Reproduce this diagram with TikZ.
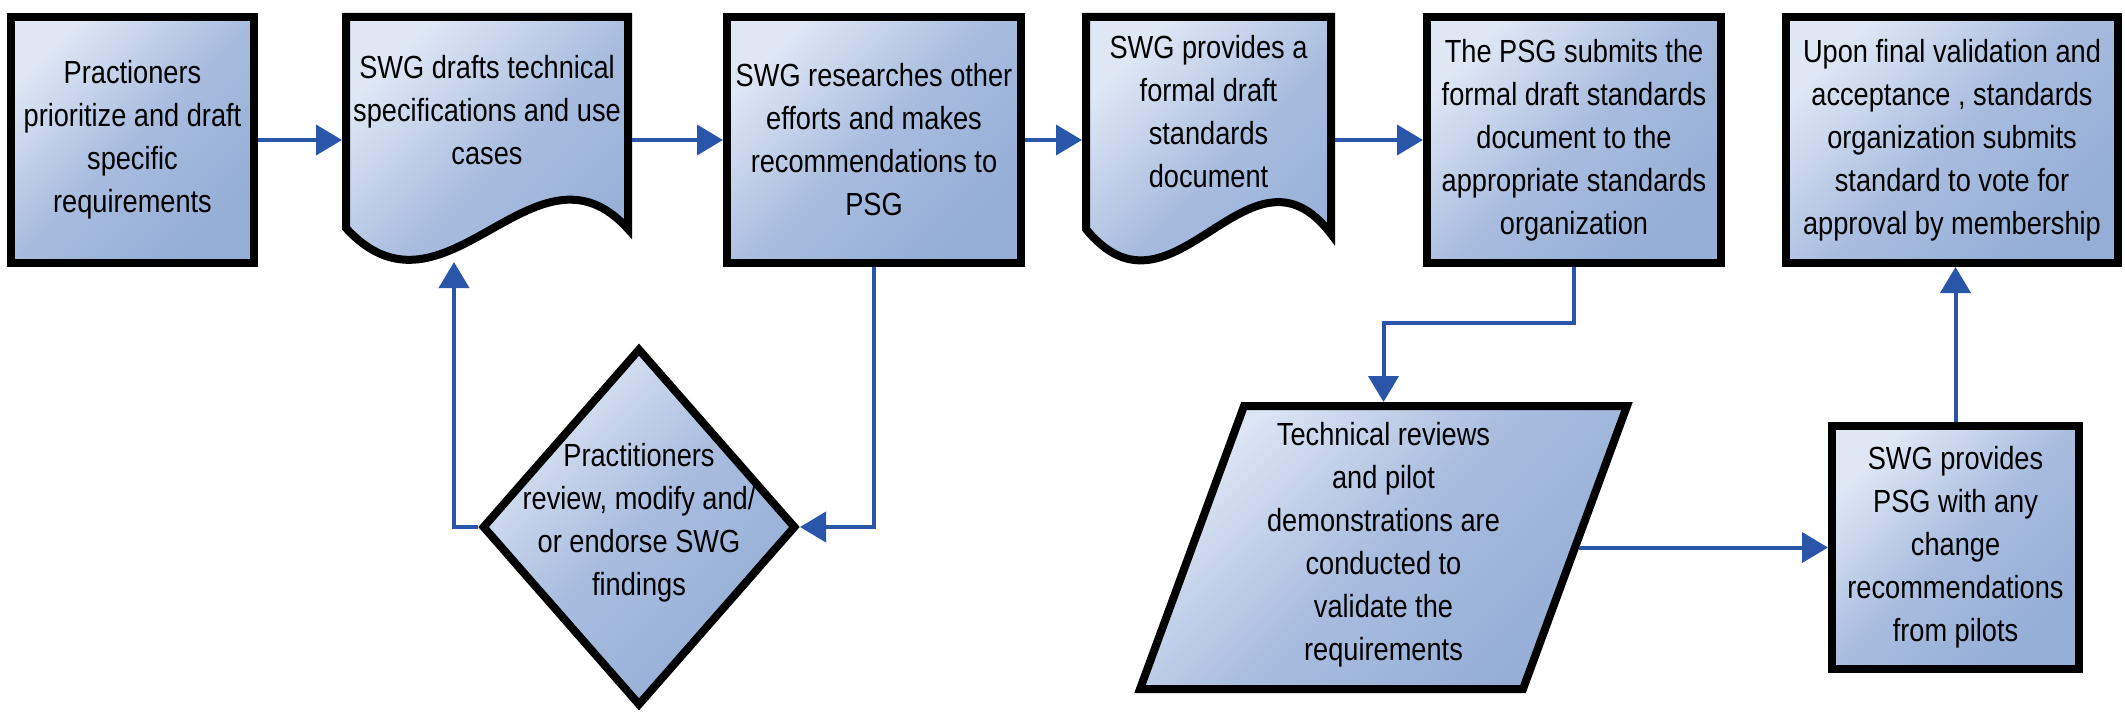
\documentclass[tikz,border=0pt]{standalone}
\usepackage{fontspec}
\newfontfamily\boxfont{Liberation Sans}[FakeStretch=0.85]
\usetikzlibrary{arrows.meta,shapes.geometric}
\definecolor{shadeA}{HTML}{DFE7F5}
\definecolor{shadeM}{HTML}{A7BCDF}
\definecolor{shadeB}{HTML}{95AED6}
\definecolor{arrowblue}{HTML}{2A56AA}
\tikzset{
  fillshade/.style={top color=shadeA, bottom color=shadeB, middle color=shadeM, shading angle=45},
  border/.style={draw=black, line width=8pt, line join=miter},
  txt/.style={align=center, inner sep=0pt, font=\boxfont\fontsize{32}{43}\selectfont},
  box/.style={rectangle, border, fillshade, txt, outer sep=4pt},
  frame/.style={rectangle, draw=none, inner sep=0pt, outer sep=4pt},
  conn/.style={draw=arrowblue, line width=4pt, -{Triangle[length=26pt,width=30pt]}},
}
\begin{document}
\begin{tikzpicture}[x=1pt,y=-1pt]
\useasboundingbox (0,0) rectangle (2125,714);

% top row
\node[box, minimum width=243pt, minimum height=246pt] (b1) at (132.5,140)
  {Practioners\\prioritize and draft\\specific\\requirements};

\path[border, fillshade] (346,17) -- (628,17) -- (628,229)
  .. controls (535,126) and (445,336) .. (346,228) -- cycle;
\node[frame, minimum width=282pt, minimum height=246pt] (b2) at (487,140) {};
\node[txt] (b2t) at (487,110) {SWG drafts technical\\specifications and use\\cases};

\node[box, minimum width=294pt, minimum height=246pt] (b3) at (874,140)
  {SWG researches other\\efforts and makes\\recommendations to\\PSG};

\path[border, fillshade] (1086,17) -- (1331,17) -- (1331,234)
  .. controls (1249,126) and (1173,336) .. (1086,229) -- cycle;
\node[frame, minimum width=245pt, minimum height=246pt] (b4) at (1208.5,140) {};
\node[txt] (b4t) at (1208.5,112) {SWG provides a\\formal draft\\standards\\document};

\node[box, minimum width=294pt, minimum height=246pt] (b5) at (1574,140)
  {The PSG submits the\\formal draft standards\\document to the\\appropriate standards\\organization};

\node[box, minimum width=332pt, minimum height=246pt] (b6) at (1952,140)
  {Upon final validation and\\acceptance , standards\\organization submits\\standard to vote for\\approval by membership};

% bottom row
\node[diamond, border, fillshade, minimum width=314pt, minimum height=358pt, inner sep=0pt, outer sep=4pt] (d) at (639,527) {};
\node[txt] (dt) at (639,523) {Practitioners\\review, modify and/\\or endorse SWG\\findings};

\path[border, fillshade] (1244,406) -- (1627,406) -- (1523,689) -- (1140,689) -- cycle;
\node[frame, minimum width=383pt, minimum height=283pt] (p) at (1383.5,547.5) {};
\node[txt] (pt) at (1383.5,545) {Technical reviews\\and pilot\\demonstrations are\\conducted to\\validate the\\requirements};

\node[box, minimum width=247pt, minimum height=243pt] (b7) at (1955.5,547.5)
  {SWG provides\\PSG with any\\change\\recommendations\\from pilots};

% connectors
\draw[conn] (b1.east) -- (b1.east -| b2.west);
\draw[conn] (b2.east) -- (b2.east -| b3.west);
\draw[conn] (b3.east) -- (b3.east -| b4.west);
\draw[conn] (b4.east) -- (b4.east -| b5.west);
\draw[conn] (b3.south) |- (d.east);
\coordinate (w2) at (454,262);
\draw[conn] (d.west) -| (w2);
\draw[conn] (b5.south) -- ++(0,56) -| (p.north);
\draw[conn] (p.east) -- (b7.west);
\draw[conn] (b7.north) -- (b7.north |- b6.south);
\end{tikzpicture}
\end{document}
